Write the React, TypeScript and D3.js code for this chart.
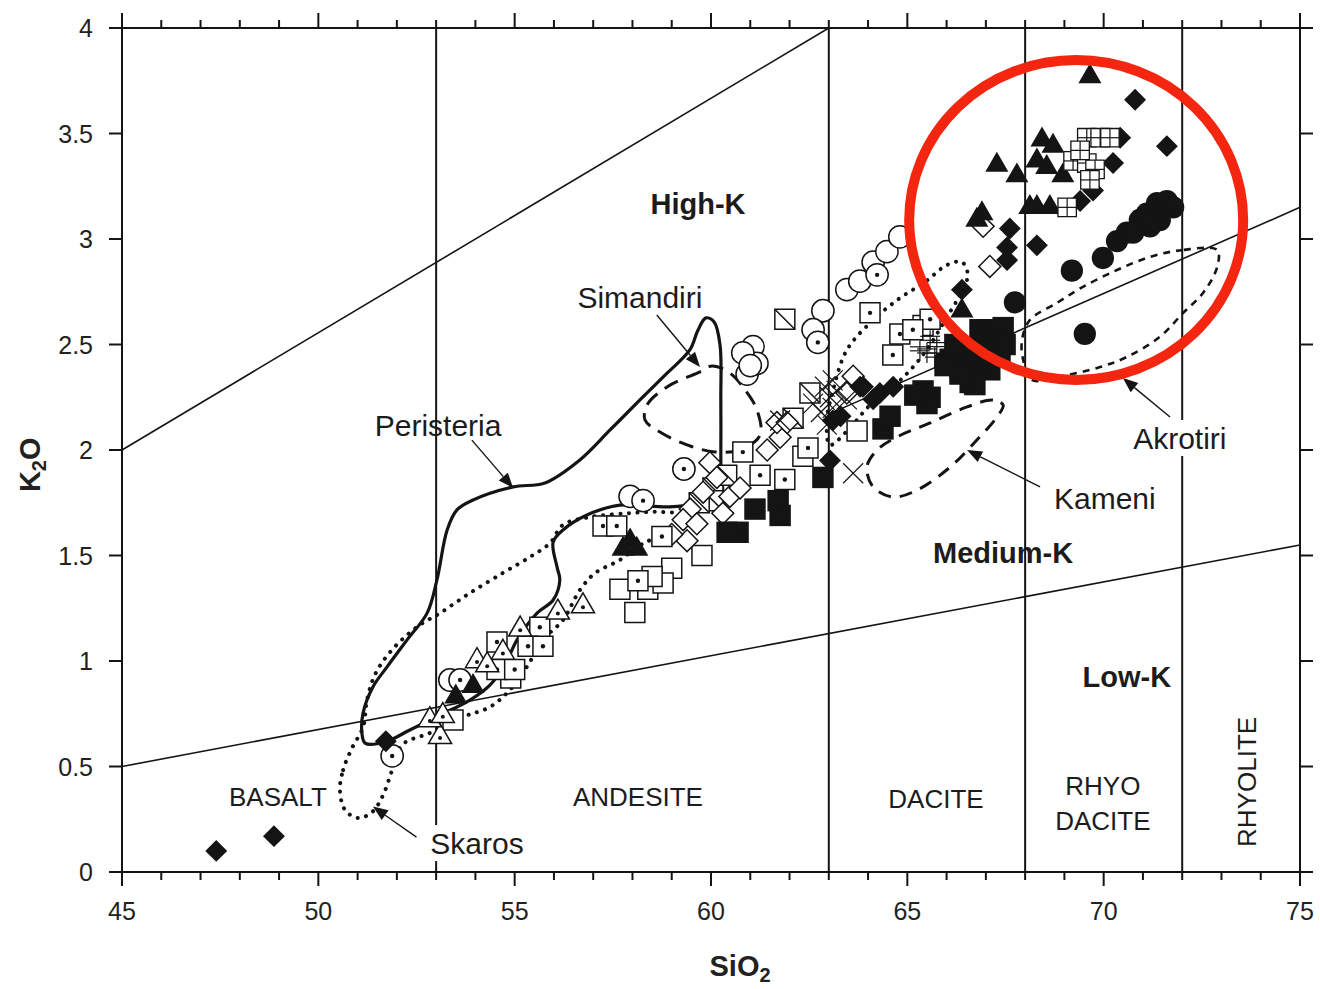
import React from "react";
import * as d3 from "d3";

type Pt = [number, number];

// ---------------- axes ----------------
const xMajorTicks = [45, 50, 55, 60, 65, 70, 75];
const xMinorTicks = [46, 47, 48, 49, 51, 52, 53, 54, 56, 57, 58, 59, 61, 62, 63, 64, 66, 67, 68, 69, 71, 72, 73, 74];
const yTicks = [0, 0.5, 1, 1.5, 2, 2.5, 3, 3.5, 4];

// rock-name boundaries (SiO2 wt%)
const rockBoundaries = [53, 63, 68, 72];

// potassium series dividers
const highKDivider: Pt[] = [[45, 2.0], [63, 4.0]];
const lowKDivider: Pt[] = [[45, 0.5], [75, 1.55]];
const extraDivider: Pt[] = [[63.0, 2.17], [75, 3.15]];

// ---------------- samples (SiO2, K2O) ----------------
const filledDiamond: Pt[] = [
  [47.4, 0.1], [48.87, 0.17], [51.72, 0.62], [70.8, 3.66], [71.61, 3.44], [70.42, 3.48], [70.24, 3.36],
  [67.61, 3.05], [67.54, 2.96], [67.54, 2.9], [68.3, 2.97], [66.39, 2.76], [69.73, 3.23], [69.4, 3.18],
  [63.87, 2.3], [64.13, 2.24], [63.1, 2.14], [63.03, 1.95], [63.3, 2.16], [63.8, 2.3], [64.3, 2.27], [64.64, 2.3],
];
const openDiamond: Pt[] = [
  [67.1, 2.87], [66.93, 3.06], [59.97, 1.94], [60.15, 1.87], [60.48, 1.78], [59.47, 1.72], [59.29, 1.67],
  [59.64, 1.65], [59.39, 1.57], [61.43, 2.0], [61.76, 2.06], [61.68, 2.13], [60.74, 1.82], [63.62, 2.35],
  [63.46, 2.27], [61.94, 2.13], [59.0, 1.6], [59.8, 1.8], [60.3, 1.7],
];
const filledTriangle: Pt[] = [
  [69.65, 3.77], [67.28, 3.35], [67.79, 3.3], [68.43, 3.47], [68.3, 3.37], [68.71, 3.44], [68.55, 3.34],
  [68.3, 3.15], [68.63, 3.15], [68.12, 3.15], [66.9, 3.12], [66.77, 3.09], [68.96, 3.3], [66.39, 2.66],
  [57.94, 1.57], [57.76, 1.53], [58.11, 1.53], [53.94, 0.88], [53.5, 0.83],
];
const openTriangleDot: Pt[] = [
  [53.1, 0.64], [52.84, 0.72], [53.17, 0.74], [54.04, 1.0], [54.7, 1.04], [55.14, 1.15], [56.1, 1.23],
  [56.74, 1.26], [54.3, 0.98],
];
const openSquare: Pt[] = [
  [59.77, 1.5], [59.0, 1.44], [57.68, 1.34], [58.06, 1.23], [58.39, 1.34], [58.78, 1.37], [63.72, 2.09],
  [62.34, 1.97], [53.43, 0.72], [58.5, 1.4], [54.9, 0.92],
];
const squareDot: Pt[] = [
  [57.25, 1.64], [57.6, 1.64], [58.75, 1.59], [58.14, 1.38], [54.55, 1.09], [55.64, 1.16], [55.34, 1.07],
  [55.72, 1.07], [54.55, 0.96], [55.0, 0.96], [60.81, 1.99], [61.25, 1.88], [61.88, 1.86], [62.47, 2.01],
  [64.05, 2.65], [64.81, 2.55], [64.63, 2.45], [65.4, 2.59], [65.58, 2.62], [65.14, 2.57],
];
const filledSquare: Pt[] = [
  [60.69, 1.61], [61.12, 1.72], [61.71, 1.76], [61.76, 1.69], [62.85, 1.87], [60.41, 1.61], [64.38, 2.1],
  [65.58, 2.25], [64.56, 2.16], [65.4, 2.28], [66.52, 2.44], [66.85, 2.41], [67.28, 2.54], [66.67, 2.32],
  [66.0, 2.41], [67.36, 2.46], [66.85, 2.57], [67.44, 2.58], [66.93, 2.55], [66.09, 2.43], [66.6, 2.46],
  [66.6, 2.32], [65.5, 2.22], [67.1, 2.46], [66.34, 2.39], [66.21, 2.5], [66.98, 2.52], [67.36, 2.57],
  [67.1, 2.38], [66.72, 2.31], [66.34, 2.36], [65.96, 2.4], [67.49, 2.5], [65.19, 2.26],
];
const openCircle: Pt[] = [
  [62.85, 2.66], [62.6, 2.57], [63.46, 2.76], [63.79, 2.8], [64.13, 2.89], [64.48, 2.94], [64.81, 3.01],
  [61.07, 2.49], [60.92, 2.36], [61.17, 2.41], [60.81, 2.46], [61.0, 2.4], [57.94, 1.78], [53.35, 0.91],
];
const circleDot: Pt[] = [
  [51.88, 0.55], [53.61, 0.91], [58.27, 1.76], [59.31, 1.91], [62.72, 2.51], [64.23, 2.83],
];
const filledCircle: Pt[] = [
  [67.74, 2.7], [69.19, 2.85], [69.52, 2.55], [69.98, 2.91], [70.34, 2.99], [70.59, 3.03], [70.92, 3.09],
  [71.1, 3.12], [71.36, 3.17], [71.61, 3.18], [71.77, 3.15], [71.43, 3.09], [71.18, 3.06], [70.75, 3.03],
];
const gridSquare: Pt[] = [
  [69.57, 3.48], [69.91, 3.48], [70.16, 3.48], [69.22, 3.37], [69.57, 3.36], [69.78, 3.33], [69.65, 3.28],
  [69.07, 3.15], [69.4, 3.42],
];
const crossedSquare: Pt[] = [
  [61.88, 2.62], [62.52, 2.27], [62.09, 2.15], [60.05, 1.82], [60.05, 1.76], [60.4, 1.88], [59.7, 1.75],
];
const xCross: Pt[] = [
  [63.03, 2.25], [62.9, 2.3], [63.1, 2.2], [62.8, 2.18], [63.2, 2.28], [63.62, 1.89], [61.76, 2.14],
  [63.1, 2.33], [63.46, 2.24], [62.6, 2.22], [62.95, 2.12],
];
const plusCross: Pt[] = [[65.58, 2.52], [65.75, 2.49], [65.5, 2.46], [65.32, 2.47], [65.7, 2.44]];

// ---------------- outlined fields ----------------
const peristeria: Pt[] = [
  [51.11, 0.659], [51.14, 0.754], [51.39, 0.877], [51.75, 0.972], [52.26, 1.1], [52.77, 1.227], [53.02, 1.384],
  [53.28, 1.621], [53.53, 1.716], [53.94, 1.763], [54.96, 1.825], [55.77, 1.844], [56.66, 1.953], [57.43, 2.095],
  [58.19, 2.237], [58.83, 2.355], [59.46, 2.474], [59.67, 2.569], [59.87, 2.626], [60.08, 2.607], [60.23, 2.498],
  [60.25, 2.237], [60.25, 1.953], [60.23, 1.716], [59.72, 1.739], [58.88, 1.73], [57.68, 1.739], [56.84, 1.692],
  [56.23, 1.621], [55.98, 1.564], [56.08, 1.445], [56.15, 1.384], [55.98, 1.289], [55.57, 1.227], [55.06, 1.1],
  [54.75, 0.981], [54.37, 0.886], [53.86, 0.815], [53.1, 0.744], [52.33, 0.673], [51.7, 0.616], [51.19, 0.611],
];
const simandiri: Pt[] = [
  [60.03, 2.398], [59.72, 2.37], [58.88, 2.299], [58.37, 2.213], [58.32, 2.142], [58.7, 2.085], [59.39, 2.024],
  [60.1, 1.991], [60.74, 2.0], [61.25, 2.071], [61.17, 2.19], [60.87, 2.284], [60.48, 2.365],
];
const skaros: Pt[] = [
  [50.55, 0.389], [50.63, 0.483], [50.86, 0.588], [51.14, 0.687], [51.24, 0.815], [51.44, 0.934], [51.83, 1.043],
  [52.51, 1.161], [53.1, 1.227], [53.86, 1.322], [54.7, 1.417], [55.39, 1.493], [55.9, 1.559], [56.23, 1.645],
  [56.92, 1.682], [57.94, 1.701], [58.78, 1.706], [59.21, 1.692], [59.01, 1.621], [58.45, 1.573], [58.12, 1.54],
  [57.68, 1.479], [57.05, 1.417], [56.66, 1.336], [56.23, 1.194], [55.72, 1.1], [55.31, 0.972], [54.88, 0.863],
  [54.37, 0.782], [53.68, 0.735], [52.84, 0.659], [52.13, 0.602], [51.88, 0.483], [51.65, 0.365], [51.37, 0.284],
  [51.01, 0.256], [50.68, 0.294],
];
const kameni: Pt[] = [
  [67.44, 2.213], [67.18, 2.237], [66.52, 2.204], [65.58, 2.128], [64.74, 2.062], [64.23, 2.0], [63.97, 1.919],
  [64.13, 1.825], [64.63, 1.777], [65.25, 1.81], [66.09, 1.919], [66.77, 2.047], [67.28, 2.156],
];
const akrotiri: Pt[] = [
  [72.89, 2.948], [72.02, 2.948], [71.18, 2.915], [70.34, 2.853], [69.47, 2.773], [68.81, 2.697], [68.12, 2.616],
  [67.92, 2.521], [67.95, 2.427], [68.17, 2.332], [68.81, 2.346], [69.91, 2.393], [70.59, 2.441], [71.43, 2.536],
  [72.02, 2.649], [72.53, 2.744], [72.89, 2.867],
];
const dottedField: Pt[] = [
  [63.03, 2.024], [62.95, 2.142], [63.11, 2.284], [63.46, 2.474], [64.13, 2.616], [64.81, 2.72], [65.45, 2.796],
  [66.01, 2.877], [66.39, 2.891], [66.54, 2.829], [66.34, 2.735], [65.96, 2.616], [65.58, 2.498], [65.19, 2.403],
  [64.69, 2.308], [64.05, 2.213], [63.49, 2.095],
];

// ---------------- annotations ----------------
const fieldLabels = [
  { text: "Simandiri", at: [58.19, 2.725] as Pt, box: false },
  { text: "Peristeria", at: [53.05, 2.118] as Pt, box: false },
  { text: "Skaros", at: [54.04, 0.137] as Pt, box: true },
  { text: "Kameni", at: [70.03, 1.773] as Pt, box: false },
  { text: "Akrotiri", at: [71.94, 2.057] as Pt, box: true },
];
const seriesLabels = [
  { text: "High-K", at: [59.67, 3.171] as Pt },
  { text: "Medium-K", at: [67.44, 1.517] as Pt },
  { text: "Low-K", at: [70.59, 0.929] as Pt },
];
const rockLabels = [
  { text: "BASALT", at: [48.97, 0.355] as Pt },
  { text: "ANDESITE", at: [58.14, 0.355] as Pt },
  { text: "DACITE", at: [65.73, 0.346] as Pt },
  { text: "RHYO", at: [69.98, 0.408] as Pt },
  { text: "DACITE", at: [69.98, 0.242] as Pt },
];
const rhyoliteLabel = { text: "RHYOLITE", at: [73.65, 0.427] as Pt };
const leaders: { from: Pt; to: Pt }[] = [
  { from: [58.62, 2.64], to: [59.72, 2.393] },
  { from: [53.91, 2.047], to: [54.96, 1.82] },
  { from: [52.5, 0.165], to: [51.39, 0.31] },
  { from: [68.38, 1.825], to: [66.52, 2.0] },
  { from: [71.69, 2.156], to: [70.49, 2.341] },
];
const highlightCenter: Pt = [69.3, 3.09];
const xTitleAt = 60.74;

// ---------------- layout ----------------
const W = 1320;
const H = 989;
const x = d3.scaleLinear().domain([45, 75]).range([122, 1300]);
const y = d3.scaleLinear().domain([0, 4]).range([872, 28]);
const FONT = "'Liberation Sans', Arial, Helvetica, sans-serif";
const INK = "#141414";

const closedPath = d3
  .line<Pt>()
  .x((d) => x(d[0]))
  .y((d) => y(d[1]))
  .curve(d3.curveCatmullRomClosed.alpha(0.5));
const straight = d3
  .line<Pt>()
  .x((d) => x(d[0]))
  .y((d) => y(d[1]));

const sym = (type: d3.SymbolType, size: number) => d3.symbol().type(type).size(size)() as string;
const squarePath = sym(d3.symbolSquare, 400);
const bigSquarePath = sym(d3.symbolSquare, 460);
const gridPath = sym(d3.symbolSquare, 340);
const circlePath = sym(d3.symbolCircle, 390);
const trianglePath = sym(d3.symbolTriangle, 230);
const diamondPath = sym(d3.symbolSquare, 240);

type Kind =
  | "openSquare" | "squareDot" | "crossedSquare" | "filledSquare" | "openCircle" | "circleDot" | "filledCircle"
  | "openTriangleDot" | "filledTriangle" | "openDiamond" | "filledDiamond" | "gridSquare" | "xCross" | "plusCross";

function Marker({ kind, p }: { kind: Kind; p: Pt }) {
  const cx = x(p[0]);
  const cy = y(p[1]);
  const t = `translate(${cx},${cy})`;
  const sw = 1.5;
  const dot = <circle r={2.2} fill={INK} />;
  switch (kind) {
    case "openSquare":
      return <path transform={t} d={squarePath} fill="#fff" stroke={INK} strokeWidth={sw} />;
    case "squareDot":
      return (
        <g transform={t}>
          <path d={squarePath} fill="#fff" stroke={INK} strokeWidth={sw} />
          {dot}
        </g>
      );
    case "crossedSquare":
      return (
        <g transform={t}>
          <path d={squarePath} fill="#fff" stroke={INK} strokeWidth={sw} />
          <line x1={-10} y1={-10} x2={10} y2={10} stroke={INK} strokeWidth={sw} />
        </g>
      );
    case "filledSquare":
      return <path transform={t} d={bigSquarePath} fill={INK} />;
    case "openCircle":
      return <path transform={t} d={circlePath} fill="#fff" stroke={INK} strokeWidth={sw} />;
    case "circleDot":
      return (
        <g transform={t}>
          <path d={circlePath} fill="#fff" stroke={INK} strokeWidth={sw} />
          {dot}
        </g>
      );
    case "filledCircle":
      return <path transform={t} d={circlePath} fill={INK} />;
    case "openTriangleDot":
      return (
        <g transform={t}>
          <path d={trianglePath} fill="#fff" stroke={INK} strokeWidth={sw} />
          <circle r={2} cy={1} fill={INK} />
        </g>
      );
    case "filledTriangle":
      return <path transform={t} d={trianglePath} fill={INK} />;
    case "openDiamond":
      return <path transform={`${t} rotate(45)`} d={diamondPath} fill="#fff" stroke={INK} strokeWidth={sw} />;
    case "filledDiamond":
      return <path transform={`${t} rotate(45)`} d={diamondPath} fill={INK} />;
    case "gridSquare":
      return (
        <g transform={t}>
          <path d={gridPath} fill="#fff" stroke={INK} strokeWidth={1.3} />
          <line x1={-9.2} x2={9.2} y1={0} y2={0} stroke={INK} strokeWidth={1.2} />
          <line y1={-9.2} y2={9.2} x1={0} x2={0} stroke={INK} strokeWidth={1.2} />
        </g>
      );
    case "xCross":
      return (
        <g transform={t} stroke={INK} strokeWidth={1.2}>
          <line x1={-10} y1={-10} x2={10} y2={10} />
          <line x1={-10} y1={10} x2={10} y2={-10} />
        </g>
      );
    case "plusCross":
      return (
        <g transform={t} stroke={INK} strokeWidth={1.2}>
          <line x1={-10} y1={0} x2={10} y2={0} />
          <line x1={0} y1={-10} x2={0} y2={10} />
          <line x1={-10} y1={-4} x2={10} y2={-4} />
        </g>
      );
  }
  return null;
}

const layers: { kind: Kind; data: Pt[] }[] = [
  { kind: "openSquare", data: openSquare },
  { kind: "crossedSquare", data: crossedSquare },
  { kind: "openDiamond", data: openDiamond },
  { kind: "squareDot", data: squareDot },
  { kind: "filledSquare", data: filledSquare },
  { kind: "openCircle", data: openCircle },
  { kind: "circleDot", data: circleDot },
  { kind: "openTriangleDot", data: openTriangleDot },
  { kind: "xCross", data: xCross },
  { kind: "plusCross", data: plusCross },
  { kind: "filledDiamond", data: filledDiamond },
  { kind: "filledTriangle", data: filledTriangle },
  { kind: "filledCircle", data: filledCircle },
  { kind: "gridSquare", data: gridSquare },
];

function Leader({ from, to }: { from: Pt; to: Pt }) {
  const x1 = x(from[0]);
  const y1 = y(from[1]);
  const x2 = x(to[0]);
  const y2 = y(to[1]);
  const a = Math.atan2(y2 - y1, x2 - x1);
  const L = 15;
  const Wd = 6;
  const bx = x2 - L * Math.cos(a);
  const by = y2 - L * Math.sin(a);
  const pts = [
    [x2, y2],
    [bx + Wd * Math.sin(a), by - Wd * Math.cos(a)],
    [bx - Wd * Math.sin(a), by + Wd * Math.cos(a)],
  ];
  return (
    <g>
      <line x1={x1} y1={y1} x2={bx} y2={by} stroke={INK} strokeWidth={1.4} />
      <polygon points={pts.map((q) => q.join(",")).join(" ")} fill={INK} />
    </g>
  );
}

export default function App() {
  const [x0, x1] = x.range();
  const [yb, yt] = y.range();
  return (
    <div style={{ position: "absolute", left: 0, top: 0 }}>
      <svg width={W} height={H} viewBox={`0 0 ${W} ${H}`} style={{ display: "block", background: "#fff" }} fontFamily={FONT}>
        <rect width={W} height={H} fill="#fff" />

        {/* frame */}
        <g stroke={INK} strokeWidth={2} fill="none">
          <line x1={x0} x2={x1} y1={yb} y2={yb} />
          <line x1={x0} x2={x1} y1={yt} y2={yt} />
          <line x1={x0} x2={x0} y1={yt} y2={yb} />
          <line x1={x1} x2={x1} y1={yt} y2={yb} />
        </g>

        {/* ticks */}
        <g stroke={INK} strokeWidth={2}>
          {xMajorTicks.map((v) => (
            <g key={`xm${v}`}>
              <line x1={x(v)} x2={x(v)} y1={yb} y2={yb + 14} />
              <line x1={x(v)} x2={x(v)} y1={yt} y2={yt - 15} />
            </g>
          ))}
          {xMinorTicks.map((v) => (
            <g key={`xn${v}`}>
              <line x1={x(v)} x2={x(v)} y1={yb} y2={yb + 8} />
              <line x1={x(v)} x2={x(v)} y1={yt} y2={yt - 8} />
            </g>
          ))}
          {yTicks.map((v) => (
            <g key={`y${v}`}>
              <line x1={x0 - 13} x2={x0} y1={y(v)} y2={y(v)} />
              <line x1={x1} x2={x1 + 13} y1={y(v)} y2={y(v)} />
            </g>
          ))}
        </g>
        <g fill="#222" fontSize={25}>
          {xMajorTicks.map((v) => (
            <text key={`xl${v}`} x={x(v)} y={yb + 48} textAnchor="middle">
              {v}
            </text>
          ))}
          {yTicks.map((v) => (
            <text key={`yl${v}`} x={x0 - 29} y={y(v) + 9} textAnchor="end">
              {v}
            </text>
          ))}
        </g>

        {/* axis titles */}
        <text x={x(xTitleAt)} y={976} textAnchor="middle" fontWeight="bold" fontSize={29} fill="#222">
          SiO<tspan fontSize={20} dy={6}>2</tspan>
        </text>
        <text transform={`translate(40,${y(1.93)}) rotate(-90)`} textAnchor="middle" fontWeight="bold" fontSize={29} fill="#222">
          K<tspan fontSize={20} dy={6}>2</tspan>
          <tspan dy={-6}>O</tspan>
        </text>

        {/* classification lines */}
        <g stroke={INK} strokeWidth={1.6} fill="none">
          {rockBoundaries.map((v) => (
            <line key={`rb${v}`} x1={x(v)} x2={x(v)} y1={yt} y2={yb} strokeWidth={2} />
          ))}
          <path d={straight(highKDivider) as string} />
          <path d={straight(lowKDivider) as string} />
          <path d={straight(extraDivider) as string} />
        </g>

        {/* fields */}
        <g fill="none" stroke={INK}>
          <path d={closedPath(skaros) as string} strokeWidth={4} strokeDasharray="0.1 8.5" strokeLinecap="round" />
          <path d={closedPath(dottedField) as string} strokeWidth={4} strokeDasharray="0.1 8.5" strokeLinecap="round" />
          <path d={closedPath(peristeria) as string} strokeWidth={3.2} />
          <path d={closedPath(simandiri) as string} strokeWidth={3} strokeDasharray="15 9" />
          <path d={closedPath(kameni) as string} strokeWidth={3} strokeDasharray="13 9" />
          <path d={closedPath(akrotiri) as string} strokeWidth={2.6} strokeDasharray="7 6" />
        </g>

        {/* samples */}
        {layers.map((L) => (
          <g key={L.kind}>
            {L.data.map((p, i) => (
              <Marker key={i} kind={L.kind} p={p} />
            ))}
          </g>
        ))}

        {/* leaders */}
        {leaders.map((l, i) => (
          <Leader key={i} from={l.from} to={l.to} />
        ))}

        {/* labels */}
        {fieldLabels.map((l) => (
          <g key={l.text}>
            {l.box && (
              <rect x={x(l.at[0]) - l.text.length * 8.3} y={y(l.at[1]) - 18} width={l.text.length * 16.6} height={36} fill="#fff" />
            )}
            <text x={x(l.at[0])} y={y(l.at[1]) + 11} textAnchor="middle" fontSize={30} fill="#1c1c1c">
              {l.text}
            </text>
          </g>
        ))}
        {seriesLabels.map((l) => (
          <text key={l.text} x={x(l.at[0])} y={y(l.at[1]) + 11} textAnchor="middle" fontSize={29} fontWeight="bold" fill="#1c1c1c">
            {l.text}
          </text>
        ))}
        {rockLabels.map((l, i) => (
          <text key={i} x={x(l.at[0])} y={y(l.at[1]) + 9} textAnchor="middle" fontSize={26} fill="#1c1c1c">
            {l.text}
          </text>
        ))}
        <text
          transform={`translate(${x(rhyoliteLabel.at[0]) + 9},${y(rhyoliteLabel.at[1])}) rotate(-90)`}
          textAnchor="middle"
          fontSize={26}
          fill="#1c1c1c"
        >
          {rhyoliteLabel.text}
        </text>

        {/* highlight */}
        <ellipse cx={x(highlightCenter[0])} cy={y(highlightCenter[1])} rx={167} ry={160} fill="none" stroke="#f4260f" strokeWidth={10} />
      </svg>
    </div>
  );
}
